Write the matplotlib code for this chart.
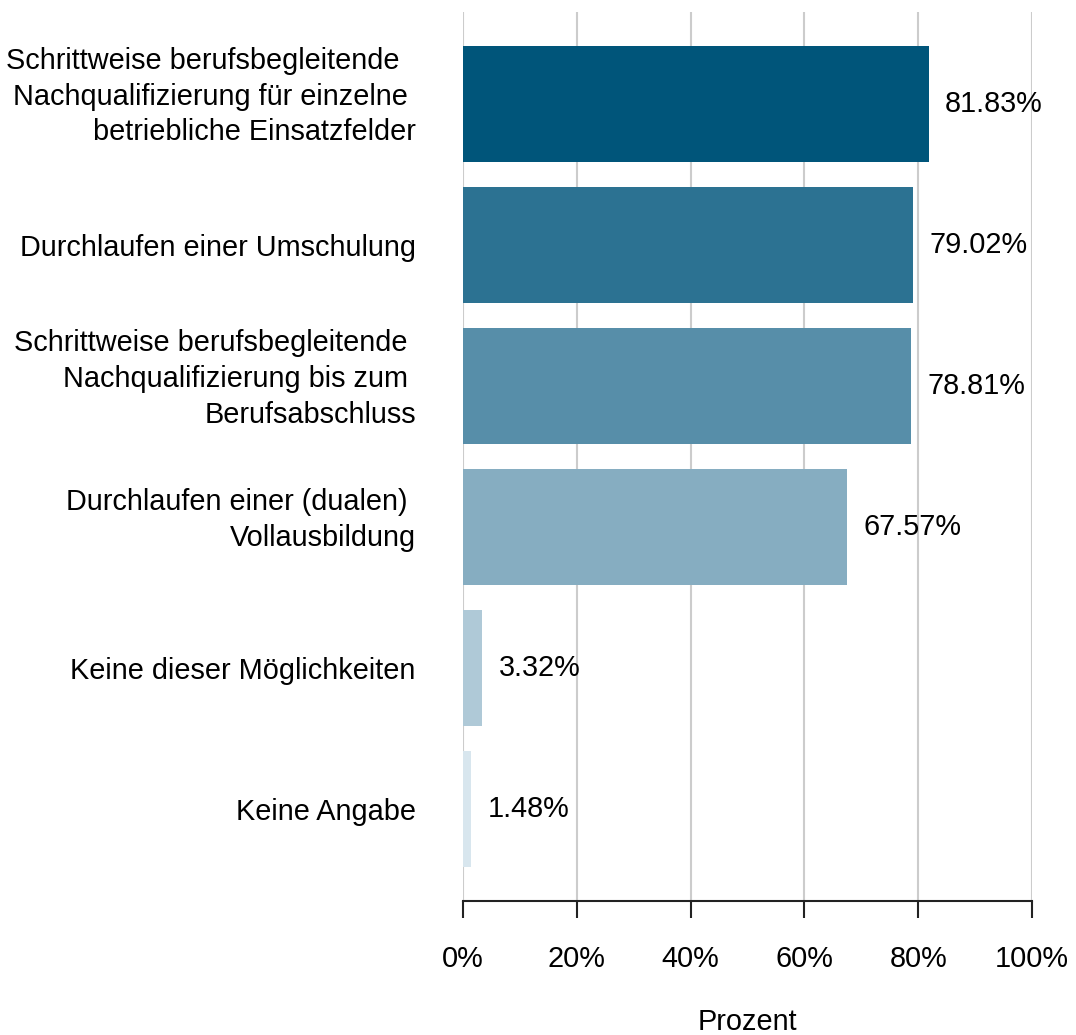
import matplotlib.pyplot as plt
import matplotlib.transforms as mtransforms
from matplotlib.ticker import FuncFormatter

plt.rcParams['font.family'] = ['Liberation Sans', 'DejaVu Sans']

categories = [
    "Schrittweise berufsbegleitende  \nNachqualifizierung für einzelne \nbetriebliche Einsatzfelder",
    "Durchlaufen einer Umschulung",
    "Schrittweise berufsbegleitende \nNachqualifizierung bis zum \nBerufsabschluss",
    "Durchlaufen einer (dualen) \nVollausbildung",
    "Keine dieser Möglichkeiten",
    "Keine Angabe",
]
values = [81.83, 79.02, 78.81, 67.57, 3.32, 1.48]
colors = ["#00557a", "#2c7292", "#578ea9", "#86adc1", "#afc9d7", "#d8e6ee"]
xticks = [0, 20, 40, 60, 80, 100]

fs = 20.8

fig = plt.figure(figsize=(10.76, 10.35), dpi=100)
ax = fig.add_axes([0.4303, 0.1295, 0.5288, 0.8589])

pos = list(range(len(values)))
ax.barh(pos, values, height=0.82, color=colors, zorder=2)
for y, v in zip(pos, values):
    ax.text(v + 2.9, y, f"{v:.2f}%", va='center', ha='left', fontsize=fs)

ax.set_ylim(5.65, -0.65)
ax.set_xlim(0, 100)
ax.set_yticks(pos)
ax.set_yticklabels(categories, fontsize=fs, ha='right', multialignment='right',
                   linespacing=1.35)
ax.tick_params(axis='y', length=0, pad=34)

# multi-line labels sit a bit higher in the original
shift = mtransforms.ScaledTranslation(0, 10 / 72, fig.dpi_scale_trans)
for lbl in ax.get_yticklabels():
    if "\n" in lbl.get_text():
        lbl.set_transform(lbl.get_transform() + shift)

ax.set_xticks(xticks)
ax.xaxis.set_major_formatter(FuncFormatter(lambda x, p: f"{x:.0f}%"))
ax.tick_params(axis='x', labelsize=fs, length=12, width=1.5, pad=20, color='#222222')
ax.grid(axis='x', color='#cccccc', linewidth=1.5, zorder=0)
for s in ['top', 'right', 'left']:
    ax.spines[s].set_visible(False)
ax.spines['bottom'].set_linewidth(1.5)
ax.spines['bottom'].set_color('#222222')
ax.set_xlabel("Prozent", fontsize=fs, labelpad=25)

fig.savefig("out.png", dpi=100)
